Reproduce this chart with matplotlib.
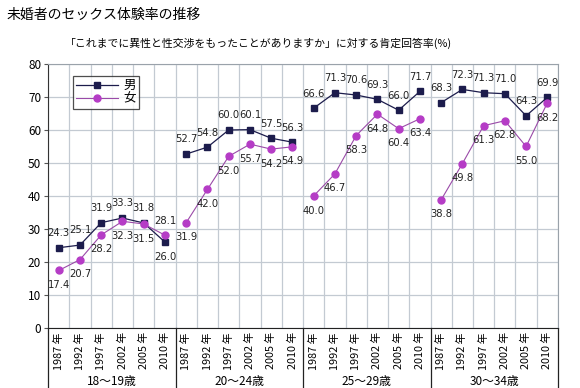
import matplotlib
matplotlib.use("Agg")
import matplotlib.pyplot as plt
import matplotlib.transforms as mtransforms
import numpy as np

plt.rcParams["font.family"] = ["Noto Sans CJK JP", "DejaVu Sans"]

YEARS = ["1987 年", "1992 年", "1997 年", "2002 年", "2005 年", "2010 年"]
GROUPS = ["18～19歳", "20～24歳", "25～29歳", "30～34歳"]

MALE = [
    [24.3, 25.1, 31.9, 33.3, 31.8, 26.0],
    [52.7, 54.8, 60.0, 60.1, 57.5, 56.3],
    [66.6, 71.3, 70.6, 69.3, 66.0, 71.7],
    [68.3, 72.3, 71.3, 71.0, 64.3, 69.9],
]
FEMALE = [
    [17.4, 20.7, 28.2, 32.3, 31.5, 28.1],
    [31.9, 42.0, 52.0, 55.7, 54.2, 54.9],
    [40.0, 46.7, 58.3, 64.8, 60.4, 63.4],
    [38.8, 49.8, 61.3, 62.8, 55.0, 68.2],
]

MALE_COLOR = "#1c1c4c"
FEMALE_COLOR = "#b53cc6"
GRID_COLOR = "#c3cad2"

fig = plt.figure(figsize=(5.8, 3.88), dpi=100)
ax = fig.add_axes([0.083, 0.155, 0.879, 0.68])

n = len(YEARS)
for g in range(len(GROUPS)):
    x = np.arange(n) + g * n
    ax.plot(x, MALE[g], color=MALE_COLOR, lw=0.9, marker="s", ms=4,
            label="男" if g == 0 else None, zorder=3)
    ax.plot(x, FEMALE[g], color="#9a4aa8", lw=0.8, marker="o", ms=5,
            mfc=FEMALE_COLOR, mec=FEMALE_COLOR,
            label="女" if g == 0 else None, zorder=3)
    for i in range(n):
        m, f = MALE[g][i], FEMALE[g][i]
        m_up = True
        f_up = False
        if g == 0 and i == 5:
            m_up, f_up = False, True
        ax.annotate(f"{m:.1f}", (x[i], m), xytext=(0, 10.5 if m_up else -10.5),
                    textcoords="offset points", ha="center", va="center",
                    fontsize=7.2, color="#222222", family="DejaVu Sans")
        ax.annotate(f"{f:.1f}", (x[i], f), xytext=(0, 10.5 if f_up else -10.5),
                    textcoords="offset points", ha="center", va="center",
                    fontsize=7.2, color="#222222", family="DejaVu Sans")

ax.set_xlim(-0.5, len(GROUPS) * n - 0.5)
ax.set_ylim(0, 80)
ax.set_yticks(np.arange(0, 81, 10))
ax.tick_params(axis="y", labelsize=8.5, length=3, color="#555555", pad=2)

ax.set_xticks(np.arange(len(GROUPS) * n))
ax.set_xticklabels(YEARS * len(GROUPS), rotation=90, fontsize=7.8)
ax.tick_params(axis="x", length=0, pad=3)
ax.set_xticks(np.arange(-0.5, len(GROUPS) * n, 1), minor=True)
ax.tick_params(axis="x", which="minor", length=0)

ax.grid(True, which="minor", axis="x", color=GRID_COLOR, lw=0.9)
ax.grid(True, which="major", axis="y", color=GRID_COLOR, lw=0.9)
ax.set_axisbelow(True)

for side in ["top", "right"]:
    ax.spines[side].set_color("#9aa2aa")
ax.spines["left"].set_color("#333333")
ax.spines["bottom"].set_color("#222222")

trans = mtransforms.blended_transform_factory(ax.transData, ax.transAxes)
for g in range(len(GROUPS) + 1):
    xb = g * n - 0.5
    ax.plot([xb, xb], [0, -0.23], transform=trans, color="#222222", lw=0.9,
            clip_on=False)
for g, name in enumerate(GROUPS):
    ax.text(g * n + (n - 1) / 2, -0.205, name, transform=trans, ha="center",
            va="center", fontsize=8.5)

leg = ax.legend(loc="upper left", bbox_to_anchor=(0.048, 0.955), fontsize=9,
                frameon=True, fancybox=False, handlelength=3.4,
                borderpad=0.25, labelspacing=0.05, handletextpad=0.4,
                borderaxespad=0.0)
leg.get_frame().set_edgecolor("#222222")
leg.get_frame().set_linewidth(0.9)

fig.text(0.012, 0.962, "未婚者のセックス体験率の推移", fontsize=10, va="center")
fig.text(0.445, 0.889, "「これまでに異性と性交渉をもったことがありますか」に対する肯定回答率(%)",
         fontsize=7.8, ha="center", va="center")

fig.savefig("out.png", dpi=100)
